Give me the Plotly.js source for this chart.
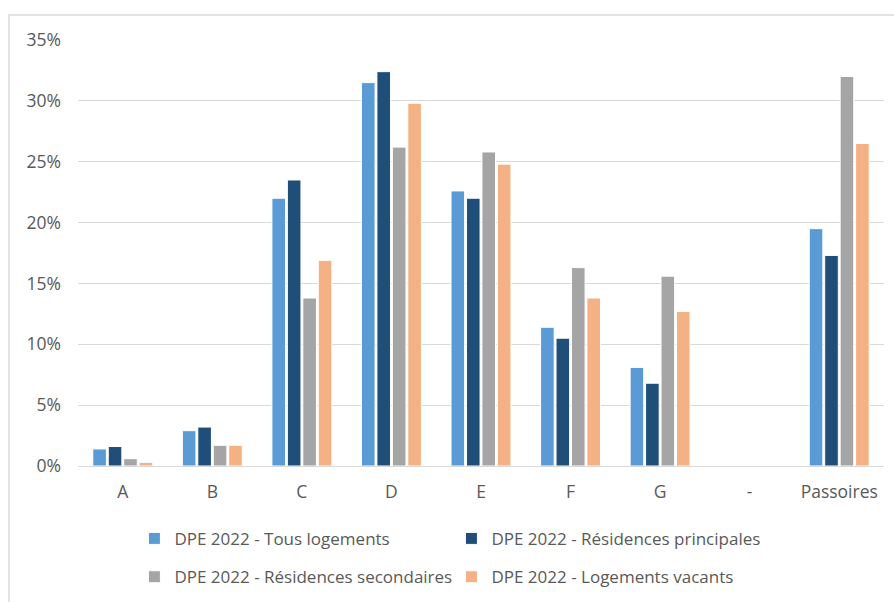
<!DOCTYPE html>
<html>
<head>
<meta charset="utf-8">
<script src="https://cdn.plot.ly/plotly-3.0.1.min.js"></script>
<style>
  html, body { margin: 0; padding: 0; background: #ffffff; }
  #frame { position: absolute; left: 8px; top: 14px; width: 900px; height: 600px; border: 2px solid #e3e3e3; box-sizing: border-box; }
  #chart { position: absolute; left: 0; top: 0; width: 894px; height: 602px; }
</style>
</head>
<body>
<div id="frame"></div>
<div id="chart"></div>
<script>
const categories = ["A", "B", "C", "D", "E", "F", "G", "-", "Passoires"];
const tousLogements = [1.4, 2.9, 22.0, 31.5, 22.6, 11.4, 8.1, null, 19.5];
const residencesPrincipales = [1.6, 3.2, 23.5, 32.4, 22.0, 10.5, 6.8, null, 17.3];
const residencesSecondaires = [0.6, 1.7, 13.8, 26.2, 25.8, 16.3, 15.6, null, 32.0];
const logementsVacants = [0.3, 1.7, 16.9, 29.8, 24.8, 13.8, 12.7, null, 26.5];
const seriesNames = [
  "DPE 2022 - Tous logements",
  "DPE 2022 - Résidences principales",
  "DPE 2022 - Résidences secondaires",
  "DPE 2022 - Logements vacants"
];
const yTickValues = [0, 5, 10, 15, 20, 25, 30, 35];
const yTickLabels = ["0%", "5%", "10%", "15%", "20%", "25%", "30%", "35%"];

const colors = ["#5B9BD5", "#1F4E79", "#A5A5A5", "#F4B183"];
const allSeries = [tousLogements, residencesPrincipales, residencesSecondaires, logementsVacants];
const legendIds = ["legend", "legend", "legend2", "legend2"];

const traces = allSeries.map((vals, i) => ({
  type: "bar",
  name: seriesNames[i],
  x: categories,
  y: vals,
  marker: { color: colors[i], line: { color: "#ffffff", width: 1 } },
  legend: legendIds[i],
  hoverinfo: "x+y+name"
}));

const legendCommon = {
  orientation: "h",
  xanchor: "left",
  yanchor: "middle",
  entrywidth: 272,
  entrywidthmode: "pixels",
  font: { family: "Open Sans, sans-serif", size: 17, color: "#595959" },
  bgcolor: "rgba(0,0,0,0)",
  itemclick: false,
  itemdoubleclick: false
};

const layout = {
  width: 894,
  height: 602,
  margin: { l: 78, r: 10, t: 40, b: 136, autoexpand: false },
  paper_bgcolor: "rgba(0,0,0,0)",
  plot_bgcolor: "rgba(0,0,0,0)",
  barmode: "group",
  bargap: 0.31,
  bargroupgap: 0.12,
  font: { family: "Open Sans, sans-serif", color: "#595959" },
  xaxis: {
    type: "category",
    tickfont: { size: 17.5, color: "#595959" },
    showgrid: false,
    showline: false,
    ticks: "",
    ticklabelstandoff: 13,
    automargin: false,
    fixedrange: true
  },
  yaxis: {
    range: [0, 35],
    tickvals: yTickValues,
    ticktext: yTickLabels,
    tickfont: { size: 17.5, color: "#595959" },
    showgrid: true,
    gridcolor: "#d9d9d9",
    gridwidth: 1,
    zeroline: true,
    zerolinecolor: "#d9d9d9",
    zerolinewidth: 1,
    ticks: "",
    ticklabelstandoff: 16,
    automargin: false,
    fixedrange: true
  },
  legend: Object.assign({}, legendCommon, { x: 0.07, y: -0.171 }),
  legend2: Object.assign({}, legendCommon, { x: 0.07, y: -0.261 }),
  showlegend: true
};

Plotly.newPlot("chart", traces, layout, { displayModeBar: false, staticPlot: false });
</script>
</body>
</html>
